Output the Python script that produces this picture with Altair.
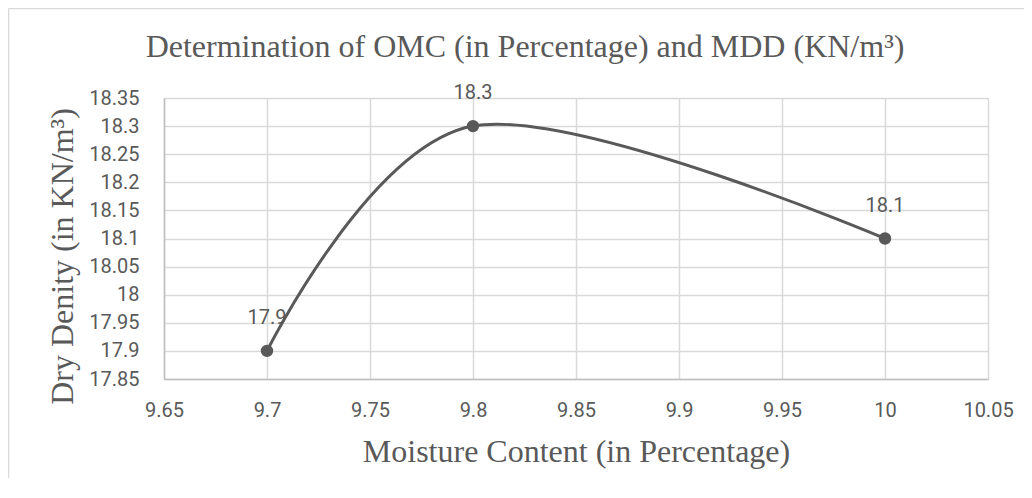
import altair as alt
import pandas as pd

moisture = [9.7, 9.8, 10.0]
density = [17.9, 18.3, 18.1]
x_ticks = [9.65, 9.7, 9.75, 9.8, 9.85, 9.9, 9.95, 10.0, 10.05]
y_ticks = [17.85, 17.9, 17.95, 18.0, 18.05, 18.1, 18.15, 18.2, 18.25, 18.3, 18.35]

df = pd.DataFrame({"x": moisture, "y": density, "label": [str(v) for v in density]})

GRAY = "#595959"
SERIF = "Liberation Serif"
SANS = "Roboto"

xenc = alt.X("x:Q", scale=alt.Scale(domain=[9.65, 10.05], nice=False, zero=False),
             axis=alt.Axis(values=x_ticks, format="~g", title="Moisture Content (in Percentage)",
                           titleFont=SERIF, titleFontSize=32, titleFontWeight="normal", titleColor=GRAY,
                           titleY=82, titleBaseline="alphabetic",
                           labelFont=SANS, labelFontSize=20, labelColor=GRAY, labelPadding=21,
                           labelOverlap=False,
                           ticks=False, domainColor="#bfbfbf", domainWidth=1.5,
                           gridColor="#d9d9d9", gridWidth=1.5, labelFlush=False))
yenc = alt.Y("y:Q", scale=alt.Scale(domain=[17.85, 18.35], nice=False, zero=False),
             axis=alt.Axis(values=y_ticks, format="~g", title="Dry Denity (in KN/m³)",
                           titleFont=SERIF, titleFontSize=32, titleFontWeight="normal", titleColor=GRAY,
                           titleAngle=270, titleX=-92, titleY=158, titleBaseline="alphabetic",
                           titleAlign="center",
                           labelFont=SANS, labelFontSize=20, labelColor=GRAY, labelPadding=25,
                           labelOverlap=False, labelSeparation=0,
                           ticks=False, domainColor="#bfbfbf", domainWidth=1.5,
                           gridColor="#d9d9d9", gridWidth=1.5, labelFlush=False))

base = alt.Chart(df).encode(x=xenc, y=yenc)
line = base.mark_line(interpolate="cardinal", tension=0, color=GRAY, strokeWidth=3)
pts = base.mark_circle(color=GRAY, size=154, opacity=1)
labels = base.mark_text(font=SANS, fontSize=20, color=GRAY, dy=-33, baseline="middle").encode(text="label:N")

border = pd.DataFrame({"a": [0]})
bl = alt.Chart(border).mark_rule(color="#d9d9d9", strokeWidth=1.5).encode(
    x=alt.value(-155.5), y=alt.value(-89.5), y2=alt.value(380))
bt = alt.Chart(border).mark_rule(color="#d9d9d9", strokeWidth=1.5).encode(
    x=alt.value(-155.5), x2=alt.value(860), y=alt.value(-89.5))

chart = alt.layer(line, pts, labels, bl, bt).properties(
    width=824, height=281,
    title=alt.TitleParams("Determination of OMC (in Percentage) and MDD (KN/m³)",
                          font=SERIF, fontSize=32, fontWeight="normal", color=GRAY,
                          anchor="middle", dx=-51, dy=81, baseline="alphabetic", offset=0),
    autosize=alt.AutoSizeParams(type="none"),
    padding={"left": 156, "top": 90, "right": 36, "bottom": 105},
).configure_view(stroke=None).configure_axisY(labelOverlap=False).configure(background="white")

chart.save("out.html", embed_options={"renderer": "svg", "actions": False})
